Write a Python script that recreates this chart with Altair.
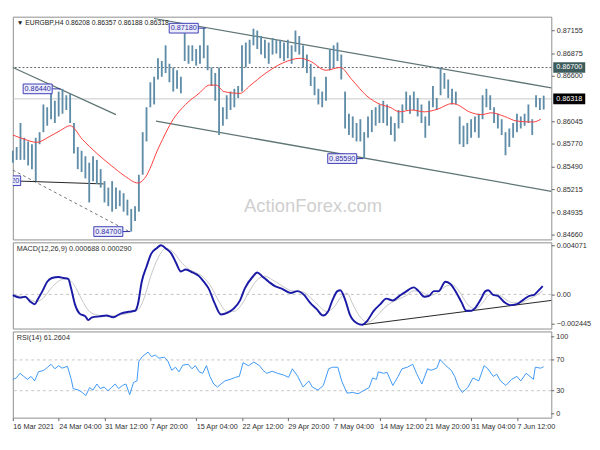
import altair as alt
import pandas as pd

# ---------------- data ----------------
HIGH = [0.85686, 0.85731, 0.86024, 0.85844, 0.85799, 0.85765, 0.85844, 0.85912, 0.86250, 0.86216,
        0.86407, 0.86295, 0.86407, 0.86440, 0.86362, 0.86385, 0.86024, 0.85731, 0.85686, 0.85619,
        0.85540, 0.85619, 0.85574, 0.85461, 0.85315, 0.85236, 0.85315, 0.85236, 0.85202, 0.85168,
        0.85089, 0.84976, 0.85010, 0.85393, 0.85912, 0.86216, 0.86520, 0.86588, 0.86813, 0.86780,
        0.86971, 0.86746, 0.86701, 0.86667, 0.86588, 0.87118, 0.86971, 0.86971, 0.86926, 0.86971,
        0.87180, 0.86971, 0.86701, 0.86633, 0.86701, 0.86216, 0.86362, 0.86407, 0.86441, 0.86475,
        0.86971, 0.87005, 0.87039, 0.87174, 0.87151, 0.87084, 0.87039, 0.87005, 0.87061, 0.87039,
        0.87039, 0.87005, 0.87039, 0.86971, 0.87151, 0.87084, 0.86971, 0.86858, 0.86746, 0.86588,
        0.86441, 0.86407, 0.86588, 0.86926, 0.86971, 0.87005, 0.86858, 0.86407, 0.86137, 0.86104,
        0.86024, 0.86070, 0.85912, 0.86104, 0.86182, 0.86216, 0.86250, 0.86295, 0.86250, 0.86104,
        0.86024, 0.86182, 0.86250, 0.86407, 0.86362, 0.86407, 0.86329, 0.86250, 0.86104, 0.86295,
        0.86475, 0.86329, 0.86701, 0.86633, 0.86554, 0.86441, 0.86407, 0.86104, 0.85991, 0.86024,
        0.86070, 0.86104, 0.86137, 0.86362, 0.86441, 0.86362, 0.86216, 0.86137, 0.86070, 0.85912,
        0.85957, 0.86024, 0.86137, 0.86104, 0.86137, 0.86250, 0.86070, 0.86362, 0.86329, 0.86357]
LOW = [0.85540, 0.85574, 0.85574, 0.85574, 0.85506, 0.85461, 0.85315, 0.85765, 0.85912, 0.85991,
       0.86070, 0.86024, 0.86104, 0.86137, 0.86182, 0.86024, 0.85653, 0.85461, 0.85427, 0.85348,
       0.85055, 0.85315, 0.85281, 0.85236, 0.85055, 0.85010, 0.84943, 0.84976, 0.85010, 0.84943,
       0.84897, 0.84700, 0.84830, 0.84943, 0.85393, 0.85799, 0.86216, 0.86250, 0.86554, 0.86588,
       0.86633, 0.86520, 0.86407, 0.86441, 0.86385, 0.86780, 0.86746, 0.86780, 0.86723, 0.86746,
       0.86813, 0.86667, 0.86475, 0.86295, 0.85878, 0.85991, 0.86070, 0.86182, 0.86216, 0.86329,
       0.86407, 0.86701, 0.86746, 0.86971, 0.86926, 0.86858, 0.86813, 0.86746, 0.86858, 0.86870,
       0.86813, 0.86780, 0.86813, 0.86746, 0.86892, 0.86858, 0.86701, 0.86633, 0.86475, 0.86362,
       0.86250, 0.86216, 0.86295, 0.86667, 0.86701, 0.86780, 0.86554, 0.85957, 0.85878, 0.85844,
       0.85799, 0.85799, 0.85590, 0.85844, 0.85912, 0.85991, 0.86024, 0.86024, 0.85991, 0.85878,
       0.85799, 0.85957, 0.86024, 0.86182, 0.86137, 0.86182, 0.86104, 0.86024, 0.85844, 0.85991,
       0.86216, 0.86182, 0.86362, 0.86441, 0.86329, 0.86250, 0.86250, 0.85765, 0.85731, 0.85765,
       0.85844, 0.85912, 0.85844, 0.86070, 0.86216, 0.86182, 0.86024, 0.85957, 0.85878, 0.85630,
       0.85731, 0.85844, 0.85912, 0.85957, 0.85991, 0.86024, 0.85878, 0.86216, 0.86182, 0.86188]
BAR_T = list(range(len(HIGH)))

MA_T = [0, 3.25, 6.25, 9.5, 12.5, 15, 18.25, 22, 25.75, 29.5,
        32.75, 34.5, 38.25, 42, 45.25, 48.75, 51.5, 53.25, 55.25, 59.5,
        62, 66.25, 70.75, 75.25, 77.75, 82, 85.75, 88.75, 92.75, 96.25,
        98.75, 101.25, 104.5, 107.75, 111.25, 115, 116.25, 119.5, 122.75, 125.25,
        128.75, 132, 136.25, 138.25]
MA_V = [0.85878, 0.85822, 0.85788, 0.85856, 0.85934, 0.85991, 0.85822, 0.85653, 0.85506, 0.85371,
        0.85292, 0.85348, 0.85731, 0.86070, 0.86250, 0.86385, 0.86486, 0.86486, 0.86407, 0.86385,
        0.86475, 0.86633, 0.86757, 0.86813, 0.86780, 0.86667, 0.86701, 0.86554, 0.86351, 0.86250,
        0.86216, 0.86160, 0.86182, 0.86160, 0.86193, 0.86261, 0.86250, 0.86160, 0.86126, 0.86148,
        0.86104, 0.86047, 0.86036, 0.86070]

MACD_T = [0, 2, 3.25, 4.5, 5.75, 6.5, 7.75, 9, 10.25, 12,
          13.25, 14.5, 15.25, 16.25, 17.5, 19, 19.75, 20.75, 22.75, 24.5,
          26.25, 28.25, 30.25, 32, 32.75, 33.75, 35, 36.25, 37.75, 38.75,
          40.25, 41.5, 42.75, 44, 45.25, 47, 48.75, 50, 51.25, 52.75,
          54.5, 56.25, 57.75, 59.5, 60.75, 62.75, 64, 65.25, 67, 68.75,
          70.25, 72.75, 74.5, 76.25, 77.75, 79.5, 81.25, 82.5, 83.75, 85,
          85.75, 87, 88.25, 90, 91.5, 92.75, 94.5, 96.25, 97.75, 99.5,
          101.25, 102.75, 105, 106.25, 107.75, 109, 110.25, 111.5, 113.25, 114.5,
          115.75, 117.5, 118.75, 120, 121.25, 122.5, 123.75, 124.5, 125.75, 127,
          128.75, 130.25, 132, 133.75, 135.25, 136.5, 137.5, 138.75]
MACD_V = [-0.00006, -0.00027, -0.00019, -0.00058, -0.00081, -0.00043, 0.00027, 0.00105, 0.00136, 0.00144,
          0.00136, 0.00128, 0.00050, -0.00081, -0.00159, -0.00182, -0.00213, -0.00190, -0.00182, -0.00175,
          -0.00190, -0.00159, -0.00144, -0.00136, -0.00081, 0.00105, 0.00229, 0.00338, 0.00384, 0.00407,
          0.00376, 0.00338, 0.00260, 0.00190, 0.00206, 0.00182, 0.00151, 0.00105, 0.00050, -0.00066,
          -0.00167, -0.00151, -0.00120, -0.00050, 0.00050, 0.00144, 0.00182, 0.00151, 0.00105, 0.00066,
          0.00050, 0.00012, 0.00027, -0.00004, -0.00066, -0.00120, -0.00175, -0.00144, -0.00043, 0.00027,
          0.00035, -0.00043, -0.00167, -0.00237, -0.00252, -0.00221, -0.00136, -0.00081, -0.00035, -0.00050,
          -0.00012, 0.00019, 0.00058, 0.00027, -0.00019, -0.00012, 0.00027, 0.00027, 0.00105, 0.00089,
          0.00035, -0.00066, -0.00136, -0.00136, -0.00105, -0.00043, 0.00027, 0.00035, -0.00004, -0.00012,
          -0.00066, -0.00089, -0.00081, -0.00043, -0.00012, -0.00004, 0.00027, 0.00069]

SIG_T = [0, 3, 6, 8, 10, 12, 14, 16, 18, 20,
         22, 25, 28, 31, 33, 34.5, 36, 38, 40, 42,
         44, 46, 48, 50, 52, 54, 56, 58, 60, 62,
         64, 66, 68, 70, 73, 76, 78, 80, 82, 84,
         86, 87.5, 89, 91, 93, 95, 97, 99, 101, 103,
         105, 107, 109, 111, 113, 115, 117, 119, 121, 123,
         125, 127, 129, 131, 133, 135, 137, 138.75]
SIG_V = [-0.0001, -0.0002, -0.0006, -0.0003, 0.0005, 0.0011, 0.0013, 0.0008, -0.0004, -0.0014,
         -0.0017, -0.0018, -0.0017, -0.0015, -0.0012, -0.0002, 0.0014, 0.0030, 0.0038, 0.0035,
         0.0027, 0.0021, 0.0018, 0.0014, 0.0006, -0.0006, -0.0014, -0.0014, -0.0008, 0.0003,
         0.0012, 0.0015, 0.0012, 0.0008, 0.0003, 0.0002, -0.0003, -0.0009, -0.0014, -0.0011,
         -0.0002, 0.0001, -0.0008, -0.0019, -0.0023, -0.0019, -0.0012, -0.0007, -0.0004, -0.0001,
         0.0003, 0.0002, -0.0001, 0.0001, 0.0006, 0.0008, 0.0002, -0.0008, -0.0012, -0.0007,
         0.0000, 0.0000, -0.0004, -0.0007, -0.0007, -0.0004, -0.0001, 0.00029]

RSI_T = [0, 0.9, 1.9, 2.85, 3.8, 4.75, 5.7, 6.7, 8.1, 9.1,
         10, 11, 12, 12.9, 14.3, 15.3, 15.8, 17.2, 18.2, 19.1,
         20.1, 21, 22, 22.9, 23.9, 24.9, 25.8, 26.8, 27.7, 28.7,
         29.6, 30.6, 31.6, 32.5, 33, 33.9, 35.4, 36.3, 37.3, 38.25,
         39.7, 40.6, 41.6, 42.6, 43.5, 44.5, 45.9, 46.9, 47.8, 48.8,
         49.7, 50.7, 51.6, 52.6, 53.6, 54.5, 55.5, 56.9, 58.3, 59.3,
         60.3, 61.7, 63.1, 64.6, 65.5, 66.5, 67.9, 69.3, 70.8, 72.2,
         73.2, 74.6, 76, 77.5, 78.4, 79.9, 81.3, 82.7, 83.7, 85.1,
         86.1, 87.5, 89, 90.4, 91.8, 93.3, 94.2, 95.2, 95.7, 97.1,
         98, 99.5, 100.9, 101.9, 103.3, 104.7, 105.7, 107.1, 108.6, 109.5,
         111, 111.9, 113.4, 114.8, 115.7, 116.7, 117.7, 119.1, 120.5, 122,
         123.4, 124.4, 125.8, 126.7, 127.7, 129.1, 130.6, 132, 133, 134.4,
         135.4, 136.3, 136.8, 138.2, 139]
RSI_V = [44.7, 46.6, 52.6, 48.6, 44.7, 48.6, 42.7, 54.5, 56.5, 60.5,
         64.4, 58.5, 62.5, 59.3, 61.7, 44.7, 32.8, 30.8, 27.7, 23.7,
         34, 30.8, 38.7, 32.8, 34.8, 30, 34, 38.7, 32.8, 36.8,
         38.7, 24.9, 40.7, 42.7, 68.4, 74.3, 80.2, 74.3, 76.3, 72.3,
         73.5, 68.4, 56.5, 60.5, 54.5, 63.2, 64.4, 58.5, 62.5, 54.5,
         52.6, 62.5, 48.6, 38.7, 34.8, 38.7, 42.7, 44.7, 47.4, 48.6,
         66.4, 62.5, 67.2, 62.5, 56.5, 52.6, 55.3, 52.6, 50.6, 47.4,
         58.5, 48.6, 34.8, 42.7, 34.8, 30.8, 36.8, 58.5, 60.5, 60.5,
         42.7, 26.9, 27.7, 26.1, 30, 34, 46.6, 44.7, 54.5, 52.6,
         53.8, 36.8, 48.6, 58.5, 60.5, 64.4, 52.6, 38.7, 58.5, 56.5,
         59.3, 70.4, 62.5, 56.5, 48.6, 34.8, 27.7, 34, 46.6, 42.7,
         62.5, 58.5, 48.6, 51.4, 42.7, 36.8, 44.7, 48.6, 42.7, 52.6,
         48.6, 44.7, 60.5, 59.3, 61.26]

DATE_TICKS = [0, 12, 24, 36, 48, 60, 72, 84, 96, 108, 120, 132]
DATE_LABELS = ['16 Mar 2021', '24 Mar 04:00', '31 Mar 12:00', '7 Apr 20:00', '15 Apr 04:00',
               '22 Apr 12:00', '29 Apr 20:00', '7 May 04:00', '14 May 12:00', '21 May 20:00',
               '31 May 04:00', '7 Jun 12:00']
PRICE_TICKS = [0.87155, 0.86875, 0.86600, 0.86045, 0.85770, 0.85490, 0.85215, 0.84935, 0.84660]
MACD_TICKS = [0.004071, 0.0, -0.002445]
RSI_TICKS = [100, 70, 30, 0]
RSI_LEVELS = [70, 30]

LAST_PRICE = 0.86318
RESISTANCE = 0.86700

TL_ID = ['up', 'up', 'low', 'low', 'desc', 'desc']
TL_T = [37, 141, 37.5, 141, 0, 27]
TL_V = [0.87298, 0.86453, 0.86047, 0.85191, 0.86701, 0.86126]
FLAT_T = [2, 23.75]
FLAT_V = [0.85315, 0.85281]
DASH_T = [0, 30.25]
DASH_V = [0.85450, 0.84706]
MACD_TL_T = [91.5, 141]
MACD_TL_V = [-0.00252, -0.00050]

LBL_TEXT = ['0.86440', '0.87180', '0.85590', '0.84700', '0.85320']
LBL_T = [6.5, 44.75, 86.25, 25, -1.75]
LBL_V = [0.86440, 0.87180, 0.85590, 0.84700, 0.85320]
LBL_END = [12.5, 50.5, 91.75, 30.75, 2]

TITLE_MAIN = '\u25bc EURGBP,H4 0.86208 0.86357 0.86188 0.86318'
TITLE_MACD = 'MACD(12,26,9) 0.000688 0.000290'
TITLE_RSI = 'RSI(14) 61.2604'

# ---------------- layout ----------------
W = 556
H_MAIN, H_SUB = 230, 89
GAP = 3
FONT = 'Liberation Sans'
FS = 7.5
P_LO, P_HI = 0.84604, 0.87320
R_LO, R_HI = -5, 107
BOX_HALF_T = 3.8
BOX_HALF_P = (P_HI - P_LO) / H_MAIN * 5

bars = pd.DataFrame({'t': BAR_T, 'high': HIGH, 'low': LOW})
ma = pd.DataFrame({'t': MA_T, 'v': MA_V})
macd = pd.DataFrame({'t': MACD_T, 'v': MACD_V})
sig = pd.DataFrame({'t': SIG_T, 'v': SIG_V})
rsi = pd.DataFrame({'t': RSI_T, 'v': RSI_V})
tl = pd.DataFrame({'id': TL_ID, 't': TL_T, 'v': TL_V})
flat = pd.DataFrame({'t': FLAT_T, 'v': FLAT_V})
dash = pd.DataFrame({'t': DASH_T, 'v': DASH_V})
mtl = pd.DataFrame({'t': MACD_TL_T, 'v': MACD_TL_V})
lbl = pd.DataFrame({'txt': LBL_TEXT, 't': LBL_T, 'v': LBL_V, 'te': LBL_END})
lbl['ta'] = lbl['t'] - BOX_HALF_T
lbl['tb'] = lbl['t'] + BOX_HALF_T
lbl['va'] = lbl['v'] - BOX_HALF_P
lbl['vb'] = lbl['v'] + BOX_HALF_P
lvl = pd.DataFrame({'v': [LAST_PRICE, RESISTANCE],
                    'txt': [f'{LAST_PRICE:.5f}', f'{RESISTANCE:.5f}'],
                    'kind': ['last', 'res']})
lvl['va'] = lvl['v'] - BOX_HALF_P * 1.1
lvl['vb'] = lvl['v'] + BOX_HALF_P * 1.1
one = pd.DataFrame({'a': [0]})
rsi_lbl = pd.DataFrame({'v': RSI_TICKS, 'txt': [str(v) for v in RSI_TICKS]})

XS = alt.Scale(domain=[0, 141], nice=False, zero=False)
X = alt.X('t:Q', scale=XS, axis=None, title=None)
PS = alt.Scale(domain=[P_LO, P_HI], nice=False, zero=False)
price_axis = alt.Axis(orient='right', values=PRICE_TICKS, format='.5f', tickSize=3,
                      labelPadding=2, title=None, labelOverlap=False, labelBound=False)


def Y(field='v'):
    return alt.Y(f'{field}:Q', scale=PS, axis=price_axis, title=None)


bar_layer = alt.Chart(bars).mark_rule(color='#5f8ca7', strokeWidth=1.9).encode(
    x=X, y=Y('low'), y2='high:Q')

last_line = alt.Chart(lvl[lvl.kind == 'last'].reset_index(drop=True)).mark_rule(
    color='#c8c8c8', strokeWidth=1).encode(y=Y())
res_line = alt.Chart(lvl[lvl.kind == 'res'].reset_index(drop=True)).mark_rule(
    color='#606060', strokeWidth=1, strokeDash=[2, 2]).encode(y=Y())
tl_layer = alt.Chart(tl).mark_line(color='#5f7575', strokeWidth=1.3).encode(x=X, y=Y(), detail='id:N')
flat_layer = alt.Chart(flat).mark_line(color='#1e1e1e', strokeWidth=1).encode(x=X, y=Y())
dash_layer = alt.Chart(dash).mark_line(color='#707070', strokeWidth=1, strokeDash=[3, 3]).encode(x=X, y=Y())
ma_layer = alt.Chart(ma).mark_line(color='#ff3b3b', strokeWidth=1, interpolate='monotone').encode(x=X, y=Y())

conn = alt.Chart(lbl).mark_rule(color='#2a2aa0', strokeWidth=1, clip=True).encode(
    x=alt.X('tb:Q', scale=XS, axis=None, title=None), x2='te:Q', y=Y())
box = alt.Chart(lbl).mark_rect(fill='#ececfa', stroke='#3b3bb5', strokeWidth=1, clip=True).encode(
    x=alt.X('ta:Q', scale=XS, axis=None, title=None), x2='tb:Q', y=Y('va'), y2='vb:Q')
box_txt = alt.Chart(lbl).mark_text(font=FONT, fontSize=FS, color='#2c2ca8', clip=True).encode(
    x=X, y=Y(), text='txt:N')

rbox = alt.Chart(lvl).mark_rect().encode(
    x=alt.value(W + 2), x2=alt.value(W + 35), y=Y('va'), y2='vb:Q',
    color=alt.Color('kind:N', scale=alt.Scale(domain=['last', 'res'], range=['#000000', '#3e5c5c']),
                    legend=None))
rbox_txt = alt.Chart(lvl).mark_text(font=FONT, fontSize=FS, align='left', color='#ffffff').encode(
    x=alt.value(W + 5), y=Y(), text='txt:N')

title_main = alt.Chart(one).mark_text(font=FONT, fontSize=7, align='left', color='#202020').encode(
    x=alt.value(4), y=alt.value(7), text=alt.value(TITLE_MAIN))
watermark = alt.Chart(one).mark_text(font=FONT, fontSize=19, color='#cfcfcf').encode(
    x=alt.value(310), y=alt.value(196), text=alt.value('ActionForex.com'))

main = alt.layer(last_line, res_line, dash_layer, flat_layer, tl_layer, watermark, bar_layer, ma_layer,
                 conn, box, box_txt, rbox, rbox_txt, title_main).properties(width=W, height=H_MAIN)

# MACD panel
MS = alt.Scale(domain=[-0.00283, 0.00431], nice=False, zero=False)
macd_axis = alt.Axis(orient='right', values=MACD_TICKS, tickSize=3, labelPadding=2, title=None,
                     labelOverlap=False, labelBound=False,
                     labelExpr="datum.value == 0 ? '0.00' : format(datum.value, '.6f')")


def YM():
    return alt.Y('v:Q', scale=MS, axis=macd_axis, title=None)


zero_line = alt.Chart(pd.DataFrame({'v': [0.0]})).mark_rule(color='#c0c0c0', strokeDash=[3, 3]).encode(y=YM())
sig_layer = alt.Chart(sig).mark_line(color='#c4c4c4', strokeWidth=1, interpolate='monotone').encode(x=X, y=YM())
macd_layer = alt.Chart(macd).mark_line(color='#1a1aa6', strokeWidth=2, interpolate='monotone').encode(x=X, y=YM())
mtl_layer = alt.Chart(mtl).mark_line(color='#202020', strokeWidth=1).encode(x=X, y=YM())
title_macd = alt.Chart(one).mark_text(font=FONT, fontSize=FS, align='left', color='#303030').encode(
    x=alt.value(4), y=alt.value(7), text=alt.value(TITLE_MACD))
macd_panel = alt.layer(zero_line, sig_layer, mtl_layer, macd_layer, title_macd).properties(
    width=W, height=H_SUB)

# RSI panel: scale labels drawn as text marks next to short ticks
RS = alt.Scale(domain=[R_LO, R_HI], nice=False, zero=False)
labels_js = '[' + ','.join(f"'{s}'" for s in DATE_LABELS) + ']'
x_axis = alt.Axis(values=DATE_TICKS, labelExpr=f"{labels_js}[round(datum.value / 12)]",
                  labelAlign='left', labelPadding=2, tickSize=3, labelOverlap=False,
                  labelFlush=False, title=None, domain=False, grid=False)
XR = alt.X('t:Q', scale=XS, axis=x_axis, title=None)


def YR():
    return alt.Y('v:Q', scale=RS, axis=None, title=None)


lvl_layer = alt.Chart(pd.DataFrame({'v': RSI_LEVELS})).mark_rule(color='#c4c4c4', strokeDash=[3, 3]).encode(y=YR())
rsi_layer = alt.Chart(rsi).mark_line(color='#3a96f5', strokeWidth=1).encode(x=XR, y=YR())
rsi_ticks = alt.Chart(rsi_lbl).mark_rule(color='#606060', strokeWidth=1).encode(
    x=alt.value(W), x2=alt.value(W + 3), y=YR())
rsi_labels = alt.Chart(rsi_lbl).mark_text(font=FONT, fontSize=FS, align='left', baseline='middle',
                                          color='#303030').encode(
    x=alt.value(W + 5), y=YR(), text='txt:N')
title_rsi = alt.Chart(one).mark_text(font=FONT, fontSize=FS, align='left', color='#303030').encode(
    x=alt.value(4), y=alt.value(7), text=alt.value(TITLE_RSI))
rsi_panel = alt.layer(lvl_layer, rsi_layer, rsi_ticks, rsi_labels, title_rsi).properties(
    width=W, height=H_SUB)

chart = alt.vconcat(main, macd_panel, rsi_panel, spacing=GAP, bounds='flush').properties(
    padding=0, background='#ffffff'
).configure_view(stroke='#8c8c8c', strokeWidth=1).configure_axis(
    labelFont=FONT, labelFontSize=FS, labelColor='#303030', tickColor='#606060',
    domain=False, grid=False)

chart.save('out.html', embed_options={'renderer': 'svg', 'actions': False})
